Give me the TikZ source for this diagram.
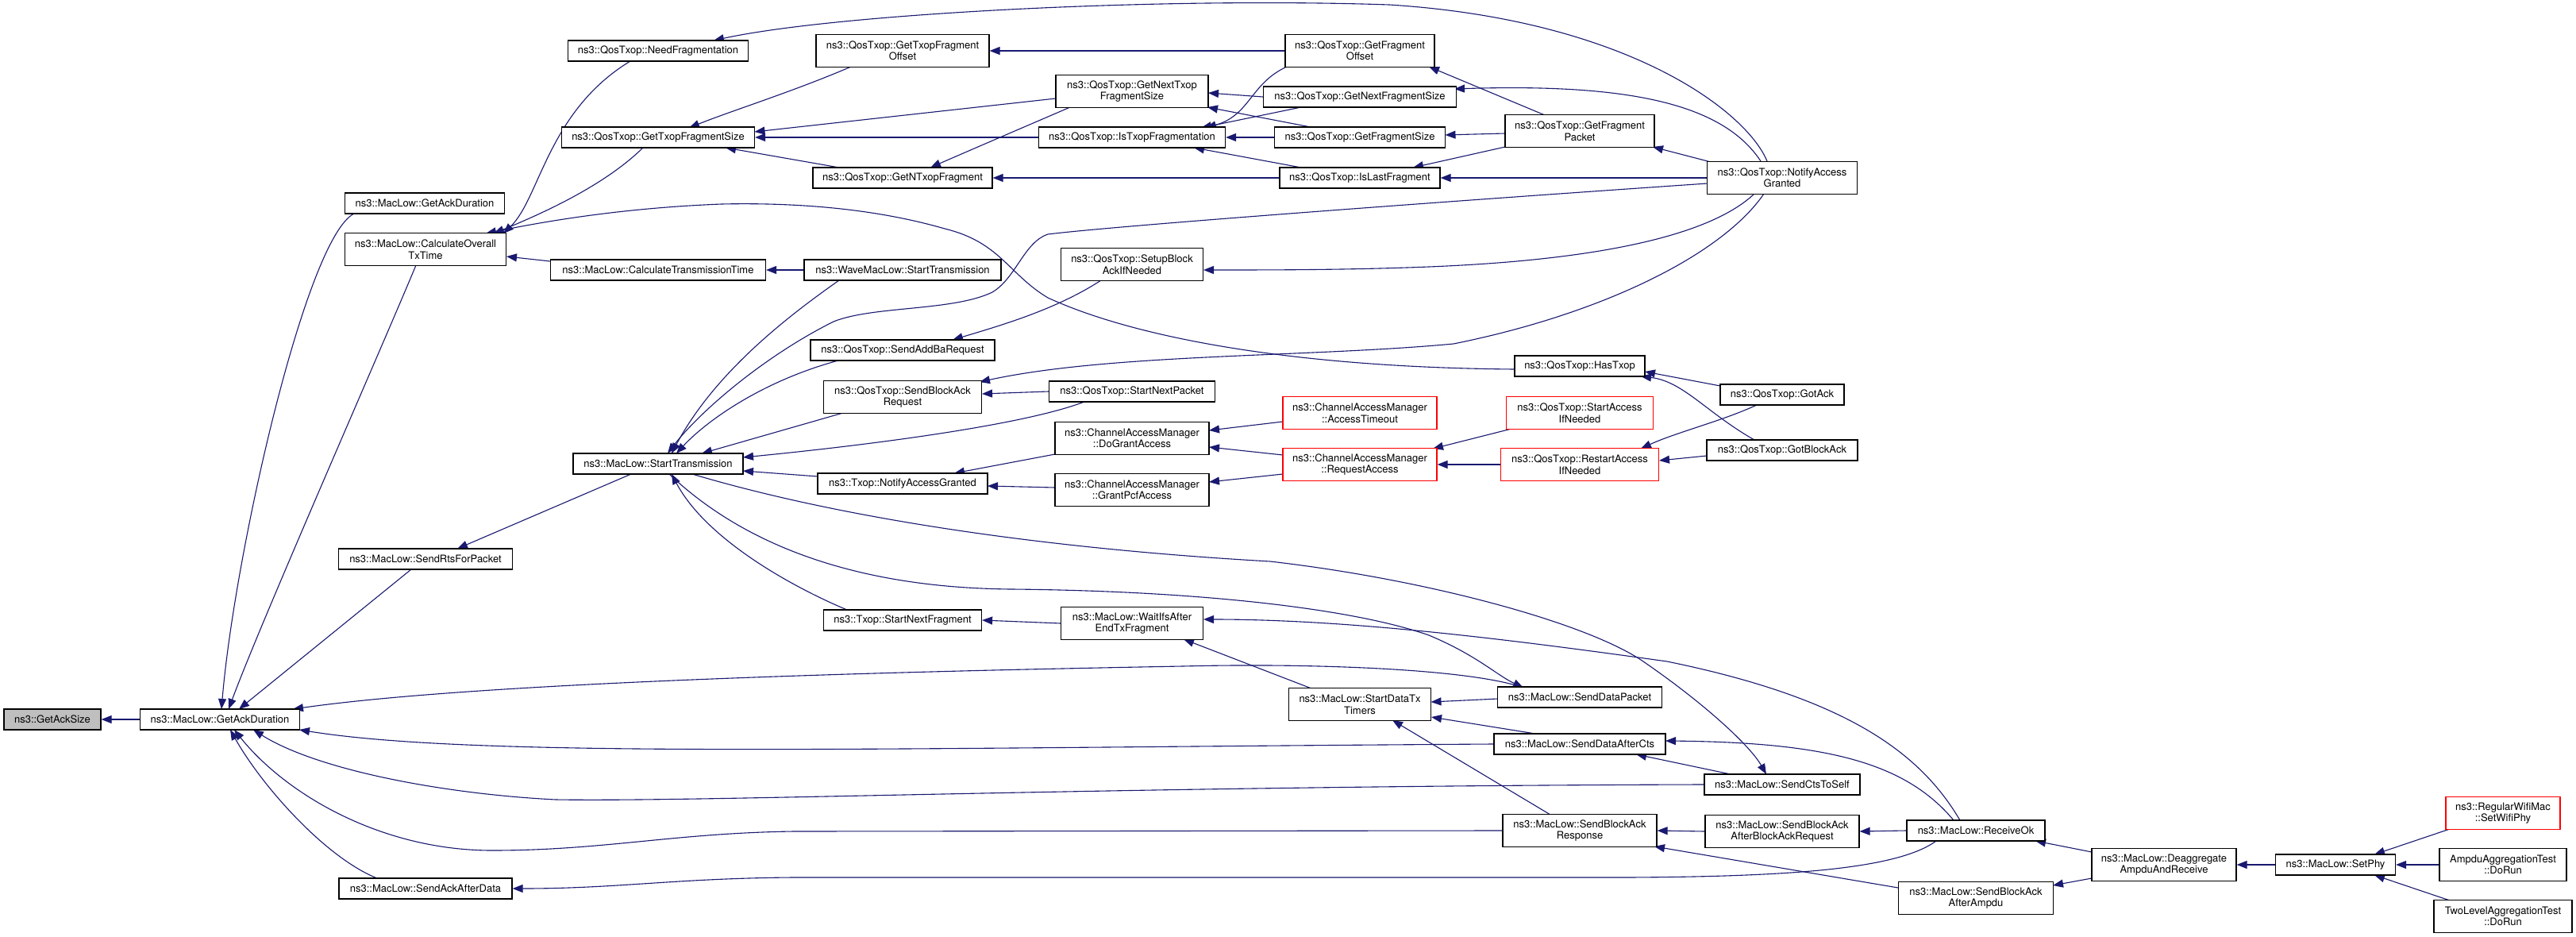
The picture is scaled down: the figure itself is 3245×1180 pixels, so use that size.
\documentclass[tikz,border=0pt]{standalone}
\usepackage{fontspec}
\setmainfont{TeX Gyre Heros}
\usetikzlibrary{arrows.meta,calc}
\definecolor{eb}{HTML}{191970}
\definecolor{gfill}{HTML}{BFBFBF}
\pgfdeclarelayer{bg}
\pgfsetlayers{bg,main}
\begin{document}
\begin{tikzpicture}[x=1pt,y=-1pt,
  nb/.style={draw=black, line width=1.2pt, fill=white, inner sep=0pt, align=center, font=\fontsize{13}{14.5}\selectfont, minimum height=26pt},
  tw/.style={minimum height=41pt},
  rd/.style={draw=red},
  e/.style={draw=eb, line width=1.1pt, -{Triangle[length=13pt,width=10pt]}}]
\useasboundingbox (0,0) rectangle (3245,1180);
\begin{pgfonlayer}{bg}
\fill[white] (0,0) rectangle (3245,1180);
\end{pgfonlayer}

\node[nb,fill=gfill,minimum width=122pt] (asz) at (66,906) {ns3::GetAckSize};
\node[nb,minimum width=201pt] (gad) at (277,906) {ns3::MacLow::GetAckDuration};
\node[nb,minimum width=201pt] (gad2) at (535,256) {ns3::MacLow::GetAckDuration};
\node[nb,tw,minimum width=203pt] (cot) at (536,314) {ns3::MacLow::CalculateOverall\\TxTime};
\node[nb,minimum width=219pt] (rts) at (536,704) {ns3::MacLow::SendRtsForPacket};
\node[nb,minimum width=218pt] (sad) at (536,1119) {ns3::MacLow::SendAckAfterData};
\node[nb,minimum width=227pt] (nfr) at (829,64) {ns3::QosTxop::NeedFragmentation};
\node[nb,minimum width=243pt] (gtfs) at (829,173) {ns3::QosTxop::GetTxopFragmentSize};
\node[nb,minimum width=271pt] (ctt) at (829,340) {ns3::MacLow::CalculateTransmissionTime};
\node[nb,minimum width=214pt] (st) at (829,584) {ns3::MacLow::StartTransmission};
\node[nb,tw,minimum width=218pt] (gtfo) at (1137,64) {ns3::QosTxop::GetTxopFragment\\Offset};
\node[nb,minimum width=226pt] (gntf) at (1137,224) {ns3::QosTxop::GetNTxopFragment};
\node[nb,minimum width=248pt] (wst) at (1137,340) {ns3::WaveMacLow::StartTransmission};
\node[nb,minimum width=232pt] (saba) at (1137,441) {ns3::QosTxop::SendAddBaRequest};
\node[nb,tw,minimum width=199pt] (sbar) at (1137,500) {ns3::QosTxop::SendBlockAck\\Request};
\node[nb,minimum width=214pt] (tnag) at (1137,609) {ns3::Txop::NotifyAccessGranted};
\node[nb,minimum width=199pt] (snf) at (1137,781) {ns3::Txop::StartNextFragment};
\node[nb,tw,minimum width=192pt] (gntfs) at (1426,115) {ns3::QosTxop::GetNextTxop\\FragmentSize};
\node[nb,minimum width=235pt] (itf) at (1426,173) {ns3::QosTxop::IsTxopFragmentation};
\node[nb,tw,minimum width=179pt] (sbai) at (1426,333) {ns3::QosTxop::SetupBlock\\AckIfNeeded};
\node[nb,minimum width=209pt] (snp) at (1426,493) {ns3::QosTxop::StartNextPacket};
\node[nb,tw,minimum width=194pt] (dga) at (1426,552) {ns3::ChannelAccessManager\\::DoGrantAccess};
\node[nb,tw,minimum width=194pt] (gpa) at (1426,617) {ns3::ChannelAccessManager\\::GrantPcfAccess};
\node[nb,tw,minimum width=179pt] (wifs) at (1426,785) {ns3::MacLow::WaitIfsAfter\\EndTxFragment};
\node[nb,tw,minimum width=188pt] (gfo) at (1713,64) {ns3::QosTxop::GetFragment\\Offset};
\node[nb,minimum width=243pt] (gnfs) at (1713,122) {ns3::QosTxop::GetNextFragmentSize};
\node[nb,minimum width=215pt] (gfs) at (1713,173) {ns3::QosTxop::GetFragmentSize};
\node[nb,minimum width=202pt] (ilf) at (1713,224) {ns3::QosTxop::IsLastFragment};
\node[nb,tw,rd,minimum width=194pt] (acct) at (1713,520) {ns3::ChannelAccessManager\\::AccessTimeout};
\node[nb,tw,rd,minimum width=194pt] (ra) at (1713,585) {ns3::ChannelAccessManager\\::RequestAccess};
\node[nb,tw,minimum width=179pt] (sdtt) at (1713,887) {ns3::MacLow::StartDataTx\\Timers};
\node[nb,tw,minimum width=188pt] (gfp) at (1990,165) {ns3::QosTxop::GetFragment\\Packet};
\node[nb,minimum width=164pt] (ht) at (1990,461) {ns3::QosTxop::HasTxop};
\node[nb,tw,rd,minimum width=185pt] (sai) at (1990,520) {ns3::QosTxop::StartAccess\\IfNeeded};
\node[nb,tw,rd,minimum width=199pt] (rai) at (1990,585) {ns3::QosTxop::RestartAccess\\IfNeeded};
\node[nb,minimum width=207pt] (sdp) at (1990,878) {ns3::MacLow::SendDataPacket};
\node[nb,minimum width=216pt] (sdac) at (1990,937) {ns3::MacLow::SendDataAfterCts};
\node[nb,tw,minimum width=194pt] (sbrsp) at (1990,1046) {ns3::MacLow::SendBlockAck\\Response};
\node[nb,tw,minimum width=189pt] (nag) at (2245,224) {ns3::QosTxop::NotifyAccess\\Granted};
\node[nb,minimum width=156pt] (ga) at (2245,497) {ns3::QosTxop::GotAck};
\node[nb,minimum width=190pt] (gba) at (2245,567) {ns3::QosTxop::GotBlockAck};
\node[nb,minimum width=196pt] (scts) at (2245,988) {ns3::MacLow::SendCtsToSelf};
\node[nb,tw,minimum width=194pt] (sbabar) at (2245,1047) {ns3::MacLow::SendBlockAck\\AfterBlockAckRequest};
\node[nb,minimum width=174pt] (rok) at (2489,1046) {ns3::MacLow::ReceiveOk};
\node[nb,tw,minimum width=195pt] (sbaam) at (2489,1131) {ns3::MacLow::SendBlockAck\\AfterAmpdu};
\node[nb,tw,minimum width=182pt] (dag) at (2726,1089) {ns3::MacLow::Deaggregate\\AmpduAndReceive};
\node[nb,minimum width=151pt] (sp) at (2942,1089) {ns3::MacLow::SetPhy};
\node[nb,tw,rd,minimum width=144pt] (rwm) at (3153,1024) {ns3::RegularWifiMac\\::SetWifiPhy};
\node[nb,tw,minimum width=160pt] (aat) at (3153,1089) {AmpduAggregationTest\\::DoRun};
\node[nb,tw,minimum width=174pt] (tlat) at (3153,1154) {TwoLevelAggregationTest\\::DoRun};

\begin{pgfonlayer}{bg}
\draw[e] (gad.west) -- (asz.east);
\draw[e] ($(gad2)+(-89,13)$) .. controls (385,300) and (295,700) .. ($(gad)+(2,-13)$);
\draw[e] ($(cot)+(-12,20)$) .. controls (480,440) and (330,780) .. ($(gad)+(11,-13)$);
\draw[e] ($(rts)+(-18,13)$) -- ($(gad)+(24,-13)$);
\draw[e] ($(sdp)+(-71,-12)$) .. controls (1850,842) and (1650,835) .. (1490,839) .. controls (1100,846) and (600,860) .. ($(gad)+(92,-13)$);
\draw[e] (sdac.west) .. controls (1100,942) and (600,955) .. ($(gad)+(100,13)$);
\draw[e] (scts.west) .. controls (1400,990) and (900,1010) .. (700,1007) .. controls (560,1000) and (400,970) .. ($(gad)+(42,13)$);
\draw[e] (sbrsp.west) -- (1000,1047) .. controls (850,1049) and (760,1071) .. (620,1071) .. controls (480,1071) and (360,1000) .. ($(gad)+(18,13)$);
\draw[e] ($(sad)+(-61,-13)$) .. controls (410,1080) and (330,990) .. ($(gad)+(13,13)$);
\draw[e] ($(rok)+(-50,13)$) .. controls (2390,1095) and (2250,1104) .. (2050,1105) -- (1000,1105) .. controls (850,1106) and (780,1119) .. (sad.east);
\draw[e] ($(nfr)+(-35,13)$) .. controls (690,140) and (680,250) .. ($(cot)+(98,-20)$);
\draw[e] ($(gtfs)+(-19,13)$) .. controls (760,235) and (680,270) .. ($(cot)+(86,-20)$);
\draw[e] ($(ht)+(-82,4)$) .. controls (1650,463) and (1440,430) .. (1320,375) .. controls (1270,345) and (1260,305) .. (1190,288) .. controls (1100,262) and (1000,255) .. (909,257) .. controls (780,262) and (680,280) .. ($(cot)+(76,-20)$);
\draw[e] ($(ctt)+(-136,-11)$) -- ($(cot)+(102,9)$);
\draw[e] (wst.west) -- (ctt.east);
\draw[e] ($(st)+(-34,13)$) -- ($(rts)+(40,-13)$);
\draw[e] ($(wst)+(-80,13)$) .. controls (990,400) and (900,470) .. ($(st)+(17,-13)$);
\draw[e] ($(nag)+(-94,7)$) .. controls (1800,255) and (1400,285) .. (1320,295) .. controls (1290,305) and (1280,350) .. (1250,368) .. controls (1200,392) and (1100,385) .. (1050,405) .. controls (960,450) and (880,520) .. ($(st)+(12,-13)$);
\draw[e] ($(saba)+(-81,13)$) .. controls (960,480) and (890,530) .. ($(st)+(23,-13)$);
\draw[e] ($(sbar)+(-75,20)$) -- ($(st)+(55,-13)$);
\draw[e] ($(snp)+(-60,13)$) .. controls (1290,535) and (1100,560) .. ($(st)+(107,-8)$);
\draw[e] ($(tnag)+(-107,-9)$) -- ($(st)+(107,9)$);
\draw[e] ($(st)+(14,13)$) .. controls (920,670) and (1050,740) .. (1274,742) .. controls (1500,744) and (1700,765) .. (1800,800) .. controls (1860,825) and (1885,850) .. ($(sdp)+(-71,-12)$);
\draw[e] ($(st)+(43,13)$) .. controls (1050,650) and (1300,690) .. (1600,707) .. controls (1800,730) and (2000,785) .. (2070,833) .. controls (2150,888) and (2205,940) .. ($(scts)+(-20,-13)$);
\draw[e] ($(snf)+(-70,-13)$) .. controls (1000,740) and (890,680) .. ($(st)+(17,13)$);
\draw[e] ($(nag)+(-19,-21)$) .. controls (2200,140) and (2050,25) .. (1750,6) .. controls (1450,-4) and (1050,18) .. ($(nfr)+(70,-13)$);
\draw[e] ($(nag)+(-27,-21)$) .. controls (2170,130) and (2050,105) .. ($(gnfs)+(119,-10)$);
\draw[e] ($(nag)+(-90,-20)$) -- ($(gfp)+(92,20)$);
\draw[e] (nag.west) -- (ilf.east);
\draw[e] ($(nag)+(-35,20)$) .. controls (2140,310) and (1950,330) .. (1800,336) .. controls (1700,340) and (1600,340) .. ($(sbai)+(90,7)$);
\draw[e] ($(nag)+(-23,20)$) .. controls (2170,320) and (2020,395) .. (1831,433) .. controls (1650,450) and (1400,445) .. ($(sbar)+(97,-19)$);
\draw[e] ($(gfp)+(-44,-20)$) -- ($(gfo)+(87,20)$);
\draw[e] ($(gfp)+(-94,3)$) -- ($(gfs)+(107.5,-3)$);
\draw[e] ($(gfp)+(-94,20)$) -- ($(ilf)+(67,-13)$);
\draw[e] (gfo.west) -- (gtfo.east);
\draw[e] ($(gfo)+(-92,20)$) .. controls (1575,105) and (1575,145) .. ($(itf)+(93,-12)$);
\draw[e] (gnfs.west) -- ($(gntfs)+(96,2)$);
\draw[e] ($(gnfs)+(-74,13)$) -- ($(itf)+(87,-12)$);
\draw[e] ($(gfs)+(-62,-13)$) -- ($(gntfs)+(95,20)$);
\draw[e] (gfs.west) -- (itf.east);
\draw[e] ($(ilf)+(-74,-13)$) -- ($(itf)+(78,13)$);
\draw[e] (ilf.west) -- (gntf.east);
\draw[e] ($(gtfo)+(-65,20)$) .. controls (1000,115) and (920,140) .. ($(gtfs)+(39,-12)$);
\draw[e] ($(gntfs)+(-96,9)$) -- ($(gtfs)+(121.5,-7)$);
\draw[e] (itf.west) -- (gtfs.east);
\draw[e] ($(gntf)+(-80,-13)$) -- ($(gtfs)+(85,13)$);
\draw[e] ($(gntfs)+(-78,20)$) .. controls (1290,160) and (1220,190) .. ($(gntf)+(35,-13)$);
\draw[e] ($(sbai)+(-39,20)$) .. controls (1330,390) and (1260,410) .. ($(saba)+(63,-13)$);
\draw[e] (snp.west) -- ($(sbar)+(100,-4)$);
\draw[e] ($(dga)+(-97,20)$) -- ($(tnag)+(65,-13)$);
\draw[e] ($(gpa)+(-97,-3)$) -- ($(tnag)+(107,3)$);
\draw[e] ($(acct)+(-97,11)$) -- ($(dga)+(97,-10)$);
\draw[e] ($(ra)+(-97,-12)$) -- ($(dga)+(97,11)$);
\draw[e] ($(ra)+(-97,12)$) -- ($(gpa)+(97,-10)$);
\draw[e] ($(sai)+(-86,20)$) -- ($(ra)+(92,-20)$);
\draw[e] (rai.west) -- (ra.east);
\draw[e] ($(ga)+(-32,13)$) .. controls (2170,530) and (2110,545) .. ($(rai)+(77,-20)$);
\draw[e] ($(gba)+(-95,7)$) -- ($(rai)+(100,-5)$);
\draw[e] ($(ga)+(-78,-11)$) -- ($(ht)+(82,7)$);
\draw[e] ($(gba)+(-35,-13)$) .. controls (2150,520) and (2120,480) .. ($(ht)+(77,13)$);
\draw[e] ($(sdtt)+(-61,-20)$) -- ($(wifs)+(65,20)$);
\draw[e] (wifs.west) -- (snf.east);
\draw[e] ($(rok)+(-20,-13)$) .. controls (2420,950) and (2330,880) .. (2100,833) .. controls (1900,805) and (1700,780) .. ($(wifs)+(90,-5)$);
\draw[e] ($(sdp)+(-103.5,2)$) -- ($(sdtt)+(89.5,-3)$);
\draw[e] ($(sdac)+(-56,-13)$) -- ($(sdtt)+(90,16)$);
\draw[e] ($(sbrsp)+(-37,-20)$) -- ($(sdtt)+(41,20)$);
\draw[e] ($(scts)+(-65,-13)$) -- ($(sdac)+(71,13)$);
\draw[e] ($(rok)+(-28,-13)$) .. controls (2400,960) and (2300,935) .. ($(sdac)+(108,-4)$);
\draw[e] (sbabar.west) -- (sbrsp.east);
\draw[e] ($(sbaam)+(-98,-13)$) -- ($(sbrsp)+(94,20)$);
\draw[e] (rok.west) -- (sbabar.east);
\draw[e] ($(dag)+(-91,-16)$) -- ($(rok)+(75,13)$);
\draw[e] ($(dag)+(-91,17)$) -- ($(sbaam)+(97,-16)$);
\draw[e] (sp.west) -- (dag.east);
\draw[e] ($(rwm)+(-67,20)$) -- ($(sp)+(49,-13)$);
\draw[e] (aat.west) -- (sp.east);
\draw[e] ($(tlat)+(-67,-20)$) -- ($(sp)+(49,13)$);
\end{pgfonlayer}
\end{tikzpicture}
\end{document}
